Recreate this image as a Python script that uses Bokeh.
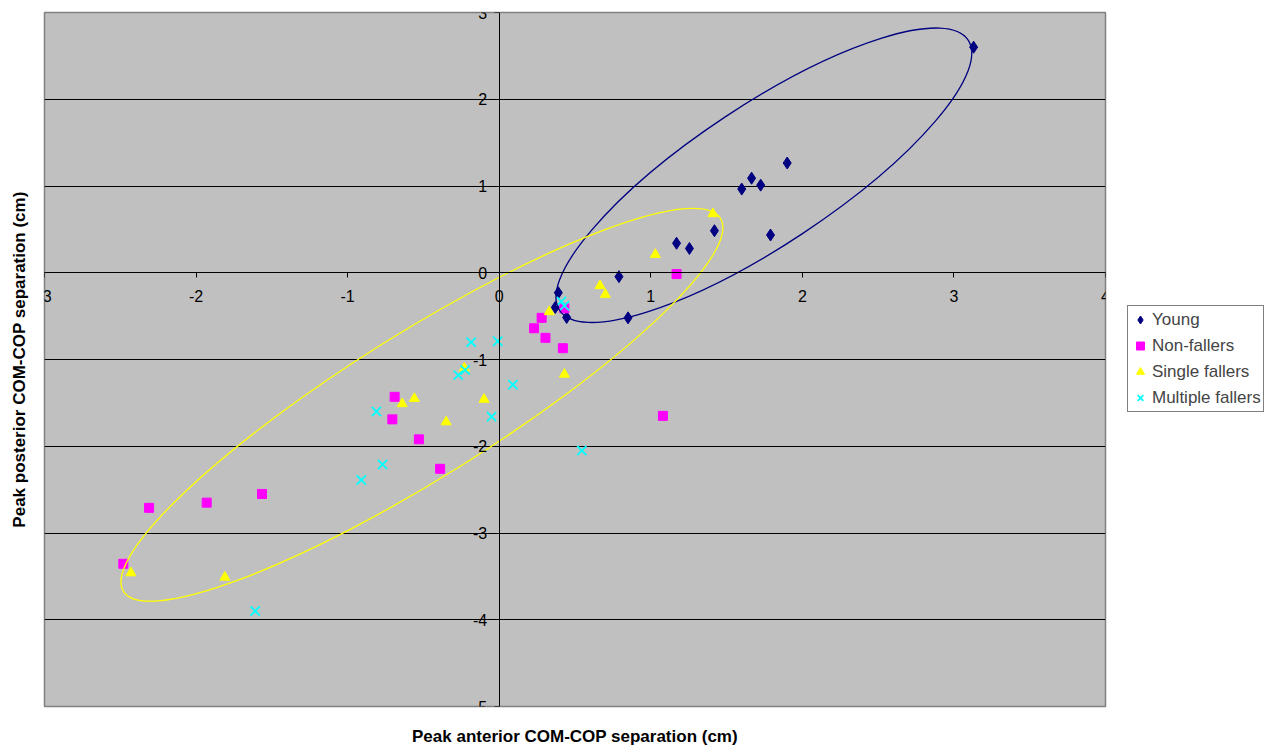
import math
from bokeh.plotting import figure
from bokeh.layouts import row
from bokeh.models import Range1d, FixedTicker, Legend, LegendItem, LinearAxis
from bokeh.embed import file_html
from bokeh.resources import INLINE

# ---- data ----
x_ticks = [-3, -2, -1, 0, 1, 2, 3, 4]
y_ticks = [-5, -4, -3, -2, -1, 0, 1, 2, 3]

series_names = ["Young", "Non-fallers", "Single fallers", "Multiple fallers"]

young_x = [3.13, 1.90, 1.665, 1.725, 1.60, 1.79, 1.42, 1.17, 1.255, 0.79, 0.85, 0.39, 0.37, 0.445]
young_y = [2.60, 1.265, 1.09, 1.01, 0.965, 0.435, 0.485, 0.34, 0.28, -0.045, -0.52, -0.23, -0.40, -0.515]

nonf_x = [-2.48, -2.31, -1.93, -1.565, -0.69, -0.705, -0.53, -0.39, 0.23, 0.28, 0.305, 0.42, 0.43, 1.17, 1.08]
nonf_y = [-3.355, -2.71, -2.65, -2.55, -1.43, -1.69, -1.92, -2.26, -0.64, -0.52, -0.75, -0.87, -0.41, -0.015, -1.65]

single_x = [-2.43, -1.81, -0.64, -0.56, -0.35, -0.23, -0.10, 0.33, 0.43, 0.665, 0.70, 1.03, 1.41]
single_y = [-3.46, -3.51, -1.51, -1.45, -1.72, -1.10, -1.46, -0.45, -1.17, -0.15, -0.25, 0.21, 0.68]

multi_x = [-1.61, -0.91, -0.77, -0.81, -0.27, -0.225, -0.185, -0.01, 0.09, -0.05, 0.545, 0.41, 0.43]
multi_y = [-3.90, -2.39, -2.21, -1.60, -1.18, -1.12, -0.80, -0.79, -1.29, -1.66, -2.05, -0.33, -0.38]

# ellipse centres (data units): young group, single-fallers group
ellipse_cx = [1.746, -0.510]
ellipse_cy = [1.124, -1.522]

x_title = "Peak anterior COM-COP separation (cm)"
y_title = "Peak posterior COM-COP separation (cm)"

FONT = "Liberation Sans"

series_data = {
    "Young": (young_x, young_y),
    "Non-fallers": (nonf_x, nonf_y),
    "Single fallers": (single_x, single_y),
    "Multiple fallers": (multi_x, multi_y),
}

styles = {
    "Young": dict(marker="diamond", size=12, fill_color="#000080", line_color="#000080"),
    "Non-fallers": dict(marker="square", size=9, fill_color="#FF00FF", line_color="#FF00FF"),
    "Single fallers": dict(marker="triangle", size=10, fill_color="#FFFF00", line_color="#FFFF00"),
    "Multiple fallers": dict(marker="x", size=13, line_color="#00FFFF", line_width=1.8),
}

p = figure(width=1113, height=751,
           x_range=Range1d(-3, 4), y_range=Range1d(-5, 3),
           output_backend="svg", toolbar_location=None,
           min_border_left=44, min_border_right=8,
           min_border_top=12, min_border_bottom=45,
           background_fill_color="#C0C0C0", border_fill_color="white")

p.outline_line_color = "#808080"
p.outline_line_width = 1.5

# axes crossing at zero
for ax in (p.xaxis, p.yaxis):
    ax.fixed_location = 0
    ax.axis_line_color = "black"
    ax.axis_line_width = 1
    ax.major_tick_line_color = "black"
    ax.major_tick_in = 0
    ax.major_tick_out = 5
    ax.minor_tick_line_color = None
    ax.major_label_text_font = FONT
    ax.major_label_text_font_size = "16px"
    ax.major_label_text_color = "black"

p.xaxis.ticker = FixedTicker(ticks=x_ticks)
p.yaxis.ticker = FixedTicker(ticks=y_ticks)
p.xaxis.major_label_overrides = {t: str(t) for t in x_ticks}
p.yaxis.major_label_overrides = {t: str(t) for t in y_ticks}
p.xaxis.major_label_standoff = 12
p.yaxis.major_label_standoff = 7

p.xgrid.visible = False
p.ygrid.ticker = FixedTicker(ticks=y_ticks[1:-1])
p.ygrid.grid_line_color = "black"
p.ygrid.grid_line_width = 1


def title_axis(label, standoff):
    return LinearAxis(axis_label=label, ticker=FixedTicker(ticks=[]),
                      axis_line_color=None, major_tick_line_color=None,
                      minor_tick_line_color=None, major_tick_in=0, major_tick_out=0,
                      major_label_standoff=0, axis_label_standoff=standoff,
                      axis_label_text_font=FONT, axis_label_text_font_size="17px",
                      axis_label_text_font_style="bold", axis_label_text_color="black")


# axis titles at the frame edges
p.add_layout(title_axis(x_title, 20), "below")
p.add_layout(title_axis(y_title, 16), "left")

# scatter series
for name in series_names:
    xs, ys = series_data[name]
    p.scatter(xs, ys, **styles[name])

# ellipses
p.ellipse(x=[ellipse_cx[0]], y=[ellipse_cy[0]], width=490, height=140,
          width_units="screen", height_units="screen", angle=math.radians(33.5),
          fill_color=None, line_color="#000080", line_width=1.3)
p.ellipse(x=[ellipse_cx[1]], y=[ellipse_cy[1]], width=704, height=145,
          width_units="screen", height_units="screen", angle=math.radians(32.0),
          fill_color=None, line_color="#FFFF00", line_width=1.3)

# legend panel (separate narrow figure to the right of the plot); its ranges
# lie away from the data so only the legend swatches are visible there
pl = figure(width=158, height=751, x_range=Range1d(100, 101), y_range=Range1d(100, 101),
            output_backend="svg", toolbar_location=None,
            x_axis_type=None, y_axis_type=None, min_border=0,
            background_fill_color="white", border_fill_color="white")
pl.outline_line_color = None
pl.xgrid.visible = False
pl.ygrid.visible = False

items = []
for name in series_names:
    xs, ys = series_data[name]
    r = pl.scatter(xs, ys, **styles[name])
    items.append(LegendItem(label=name, renderers=[r]))

legend = Legend(items=items, location=(14, 294), orientation="vertical",
                label_text_font=FONT, label_text_font_size="17px",
                label_height=23, glyph_height=23, glyph_width=20,
                spacing=3, padding=2, margin=0, label_standoff=2,
                border_line_color="black", border_line_width=1,
                background_fill_color="white", background_fill_alpha=1)
pl.add_layout(legend)

layout = row(p, pl, spacing=0)

open("out.html", "w").write(file_html(layout, INLINE))
